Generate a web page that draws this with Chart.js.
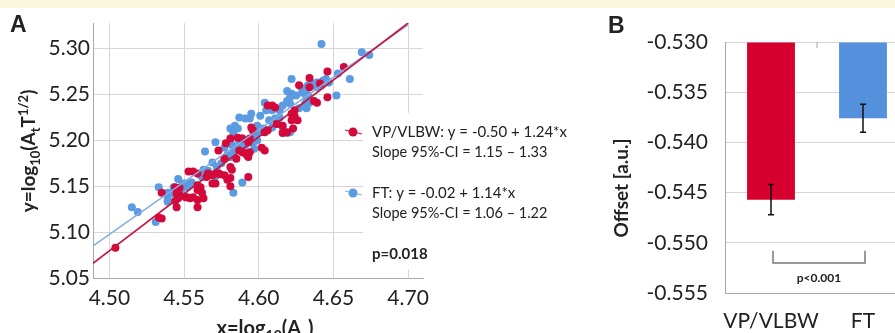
<!DOCTYPE html>
<html>
<head>
<meta charset="utf-8">
<script src="https://cdn.jsdelivr.net/npm/chart.js@4.4.1/dist/chart.umd.min.js"></script>
<style>
    html, body { margin: 0; padding: 0; width: 895px; height: 333px; overflow: hidden; background: #fff; }
    #band { position: absolute; left: 0; top: 0; width: 895px; height: 8px; background: #fdf6de; z-index: 2; }
    #chartA { position: absolute; left: 0; top: 0; }
    #chartB { position: absolute; left: 590px; top: 0; }
</style>
</head>
<body>
<div id="band"></div>
<canvas id="chartA" width="590" height="333"></canvas>
<canvas id="chartB" width="330" height="333"></canvas>
<script>
"use strict";

// Panel A - VP/VLBW scatter (x = log10(Ac), y = log10(At T^1/2))
const vpX = [4.504, 4.533, 4.535, 4.535, 4.544, 4.545, 4.544, 4.547, 4.545, 4.551, 4.554, 4.556, 4.553, 4.556,
    4.559, 4.561, 4.562, 4.559, 4.563, 4.565, 4.566, 4.569, 4.571, 4.573, 4.569, 4.571, 4.574, 4.577, 4.579,
    4.581, 4.582, 4.581, 4.593, 4.559, 4.552, 4.573, 4.581, 4.586, 4.589, 4.592, 4.585, 4.577, 4.578, 4.587,
    4.591, 4.594, 4.593, 4.589, 4.594, 4.593, 4.602, 4.604, 4.595, 4.596, 4.604, 4.606, 4.609, 4.611, 4.606,
    4.616, 4.622, 4.623, 4.619, 4.616, 4.612, 4.624, 4.624, 4.622, 4.626, 4.627, 4.634, 4.641, 4.634, 4.637,
    4.639, 4.646, 4.646, 4.657, 4.581, 4.547, 4.559, 4.559, 4.546];
const vpY = [5.083, 5.116, 5.115, 5.143, 5.149, 5.142, 5.134, 5.140, 5.127, 5.138, 5.137, 5.138, 5.166, 5.166,
    5.127, 5.149, 5.143, 5.164, 5.137, 5.160, 5.164, 5.162, 5.164, 5.164, 5.153, 5.153, 5.163, 5.162, 5.157,
    5.150, 5.168, 5.159, 5.160, 5.146, 5.138, 5.189, 5.202, 5.203, 5.187, 5.184, 5.180, 5.180, 5.197, 5.189,
    5.186, 5.187, 5.182, 5.202, 5.202, 5.198, 5.192, 5.189, 5.214, 5.211, 5.209, 5.211, 5.238, 5.236, 5.238,
    5.216, 5.222, 5.213, 5.209, 5.208, 5.218, 5.233, 5.227, 5.229, 5.222, 5.260, 5.268, 5.262, 5.258, 5.243,
    5.241, 5.247, 5.275, 5.280, 5.171, 5.148, 5.151, 5.135, 5.137];

// Panel A - FT scatter
const ftX = [4.515, 4.519, 4.531, 4.533, 4.539, 4.539, 4.543, 4.546, 4.548, 4.554, 4.552, 4.561, 4.563, 4.571,
    4.572, 4.583, 4.589, 4.549, 4.551, 4.555, 4.539, 4.542, 4.539, 4.563, 4.566, 4.562, 4.569, 4.572, 4.575,
    4.564, 4.571, 4.577, 4.581, 4.579, 4.583, 4.585, 4.587, 4.589, 4.591, 4.581, 4.587, 4.591, 4.595, 4.594,
    4.584, 4.586, 4.581, 4.599, 4.603, 4.602, 4.599, 4.597, 4.599, 4.596, 4.582, 4.586, 4.597, 4.583, 4.604,
    4.605, 4.609, 4.614, 4.611, 4.613, 4.609, 4.616, 4.621, 4.619, 4.607, 4.601, 4.619, 4.622, 4.625, 4.629,
    4.632, 4.619, 4.616, 4.614, 4.621, 4.631, 4.632, 4.627, 4.622, 4.621, 4.629, 4.633, 4.632, 4.634, 4.639,
    4.643, 4.645, 4.633, 4.636, 4.639, 4.642, 4.652, 4.653, 4.661, 4.642, 4.669, 4.674, 4.647];
const ftY = [5.127, 5.122, 5.111, 5.149, 5.140, 5.135, 5.149, 5.158, 5.143, 5.151, 5.149, 5.162, 5.168, 5.161,
    5.165, 5.143, 5.154, 5.153, 5.153, 5.154, 5.143, 5.142, 5.133, 5.165, 5.167, 5.160, 5.176, 5.171, 5.175,
    5.188, 5.198, 5.192, 5.197, 5.184, 5.187, 5.191, 5.198, 5.202, 5.195, 5.182, 5.225, 5.224, 5.229, 5.224,
    5.216, 5.213, 5.213, 5.216, 5.213, 5.209, 5.209, 5.205, 5.200, 5.197, 5.195, 5.192, 5.191, 5.208, 5.241,
    5.233, 5.233, 5.225, 5.224, 5.218, 5.214, 5.214, 5.209, 5.208, 5.222, 5.227, 5.254, 5.251, 5.249, 5.257,
    5.251, 5.243, 5.238, 5.233, 5.240, 5.240, 5.235, 5.235, 5.267, 5.247, 5.252, 5.249, 5.246, 5.241, 5.263,
    5.265, 5.267, 5.260, 5.262, 5.258, 5.260, 5.249, 5.273, 5.267, 5.305, 5.296, 5.293, 5.263];

// Regression line end points
const vpFitX = [4.489, 4.700];
const vpFitY = [5.066, 5.328];
const ftFitX = [4.489, 4.700];
const ftFitY = [5.085, 5.326];

// Legend lines
const vpLegend = ['VP/VLBW: y = -0.50 + 1.24*x', 'Slope 95%-CI = 1.15 \u2013 1.33'];
const ftLegend = ['FT: y = -0.02 + 1.14*x', 'Slope 95%-CI = 1.06 \u2013 1.22'];
const pSlope = 'p=0.018';

// Panel B - offset bars
const groups = ['VP/VLBW', 'FT'];
const offsets = [-0.5457, -0.5376];
const offsetErr = [0.0015, 0.0014];
const barTop = -0.530;
const bracketY = [-0.5508, -0.5520];
const pOffset = 'p<0.001';

var red = '#d4083a';
var blue = '#5b9be2';
var redLine = '#c8143f';
var blueLine = '#86acdf';
var gridColor = '#d6d6d6';
var axisColor = '#a8a8a8';
var textColor = '#222';

Chart.defaults.font.family = 'Lato';
Chart.defaults.color = textColor;

function pts(xs, ys) {
    return xs.map(function (x, i) { return { x: x, y: ys[i] }; });
}

// draws text runs like ['log', 'n'], ['10', 'sub'] centred on cx, baseline cy
function drawRich(ctx, runs, cx, cy, size) {
    var total = 0;
    runs.forEach(function (r) {
        ctx.font = 'bold ' + (r[1] === 'n' ? size : Math.round(size * 0.68)) + 'px Lato';
        total += ctx.measureText(r[0]).width;
    });
    var x = cx - total / 2;
    ctx.textAlign = 'left';
    ctx.textBaseline = 'alphabetic';
    runs.forEach(function (r) {
        ctx.font = 'bold ' + (r[1] === 'n' ? size : Math.round(size * 0.68)) + 'px Lato';
        var dy = r[1] === 'sub' ? size * 0.25 : (r[1] === 'sup' ? -size * 0.38 : 0);
        ctx.fillText(r[0], x, cy + dy);
        x += ctx.measureText(r[0]).width;
    });
}

var panelA = {
    id: 'panelA',
    afterDraw: function (chart) {
        var ctx = chart.ctx;
        ctx.save();

        // legend box hides the grid behind it
        ctx.fillStyle = '#fff';
        ctx.fillRect(363, 113, 227, 157);

        var items = [[vpLegend, red, redLine, 132], [ftLegend, blue, blueLine, 193]];
        items.forEach(function (it) {
            var y = it[3];
            ctx.strokeStyle = it[2];
            ctx.lineWidth = 1.2;
            ctx.beginPath();
            ctx.moveTo(345, y - 2);
            ctx.lineTo(362, y + 2);
            ctx.stroke();
            ctx.fillStyle = it[1];
            ctx.beginPath();
            ctx.arc(353, y, 4.5, 0, Math.PI * 2);
            ctx.fill();

            ctx.fillStyle = textColor;
            ctx.textAlign = 'left';
            ctx.textBaseline = 'middle';
            ctx.font = '15px Lato';
            ctx.fillText(it[0][0], 372, y);
            ctx.font = '14.5px Lato';
            ctx.fillText(it[0][1], 372, y + 20);
        });
        ctx.font = 'bold 15px Lato';
        ctx.fillText(pSlope, 372, 254);

        // axis titles
        ctx.fillStyle = textColor;
        drawRich(ctx, [['x=log', 'n'], ['10', 'sub'], ['(A', 'n'], ['c', 'sub'], [')', 'n']], 265, 335, 20);
        ctx.translate(35, 151);
        ctx.rotate(-Math.PI / 2);
        drawRich(ctx, [['y=log', 'n'], ['10', 'sub'], ['(A', 'n'], ['t', 'sub'], ['T', 'n'], ['1/2', 'sup'], [')', 'n']], 0, 0, 19);
        ctx.setTransform(1, 0, 0, 1, 0, 0);

        ctx.font = 'bold 23px "Liberation Sans"';
        ctx.textAlign = 'left';
        ctx.textBaseline = 'alphabetic';
        ctx.fillText('A', 10, 32);
        ctx.restore();
    }
};

var panelB = {
    id: 'panelB',
    afterDatasetsDraw: function (chart) {
        var ctx = chart.ctx;
        var yS = chart.scales.y;
        var bars = chart.getDatasetMeta(0).data;
        ctx.save();

        // error bars
        ctx.strokeStyle = '#111';
        ctx.lineWidth = 1.5;
        bars.forEach(function (bar, i) {
            var y1 = yS.getPixelForValue(offsets[i] + offsetErr[i]);
            var y2 = yS.getPixelForValue(offsets[i] - offsetErr[i]);
            ctx.beginPath();
            ctx.moveTo(bar.x, y1); ctx.lineTo(bar.x, y2);
            ctx.moveTo(bar.x - 3, y1); ctx.lineTo(bar.x + 3, y1);
            ctx.moveTo(bar.x - 3, y2); ctx.lineTo(bar.x + 3, y2);
            ctx.stroke();
        });

        // significance bracket
        var b1 = yS.getPixelForValue(bracketY[0]);
        var b2 = yS.getPixelForValue(bracketY[1]);
        ctx.strokeStyle = '#7a7a7a';
        ctx.lineWidth = 1.5;
        ctx.beginPath();
        ctx.moveTo(bars[0].x + 2, b1);
        ctx.lineTo(bars[0].x + 2, b2);
        ctx.lineTo(bars[1].x + 2, b2);
        ctx.lineTo(bars[1].x + 2, b1);
        ctx.stroke();
        ctx.fillStyle = textColor;
        ctx.font = 'bold 12px Lato';
        ctx.textAlign = 'center';
        ctx.textBaseline = 'middle';
        ctx.fillText(pOffset, (bars[0].x + bars[1].x) / 2 + 2, b2 + 15);

        // category separator tick on the top axis
        var mid = (bars[0].x + bars[1].x) / 2;
        ctx.strokeStyle = axisColor;
        ctx.lineWidth = 1;
        ctx.beginPath();
        ctx.moveTo(mid, chart.chartArea.top);
        ctx.lineTo(mid, chart.chartArea.top + 6);
        ctx.stroke();
        ctx.restore();
    },
    afterDraw: function (chart) {
        var ctx = chart.ctx;
        ctx.save();
        ctx.fillStyle = textColor;
        ctx.translate(38, 188);
        ctx.rotate(-Math.PI / 2);
        ctx.font = 'bold 19px Lato';
        ctx.textAlign = 'center';
        ctx.textBaseline = 'alphabetic';
        ctx.fillText('Offset [a.u.]', 0, 0);
        ctx.setTransform(1, 0, 0, 1, 0, 0);
        ctx.font = 'bold 23px "Liberation Sans"';
        ctx.textAlign = 'left';
        ctx.fillText('B', 18, 33);
        ctx.restore();
    }
};

var scatterChart = new Chart(document.getElementById('chartA'), {
    type: 'scatter',
    data: {
        datasets: [
            { type: 'line', data: pts(vpFitX, vpFitY), borderColor: redLine, borderWidth: 1.6, pointRadius: 0, fill: false },
            { type: 'line', data: pts(ftFitX, ftFitY), borderColor: blueLine, borderWidth: 1.6, pointRadius: 0, fill: false },
            { data: pts(vpX, vpY), backgroundColor: red, borderWidth: 0, pointRadius: 4 },
            { data: pts(ftX, ftY), backgroundColor: blue, borderWidth: 0, pointRadius: 4 }
        ]
    },
    options: {
        responsive: false,
        animation: false,
        layout: { padding: { top: 23, right: 167, left: 0, bottom: 0 } },
        plugins: { legend: { display: false }, tooltip: { enabled: false } },
        scales: {
            x: {
                type: 'linear',
                min: 4.489,
                max: 4.71,
                afterFit: function (s) { s.height = 55; },
                grid: { color: gridColor, drawTicks: false },
                border: { color: axisColor },
                ticks: {
                    stepSize: 0.05,
                    includeBounds: false,
                    maxRotation: 0,
                    padding: 8,
                    font: { size: 21 },
                    callback: function (v) { return v.toFixed(2); }
                }
            },
            y: {
                min: 5.05,
                max: 5.328,
                afterFit: function (s) { s.width = 93; },
                grid: { color: gridColor, drawTicks: false },
                border: { color: axisColor },
                ticks: {
                    stepSize: 0.05,
                    includeBounds: false,
                    padding: 3,
                    font: { size: 21 },
                    callback: function (v) { return v.toFixed(2); }
                }
            }
        }
    },
    plugins: [panelA]
});

var barChart = new Chart(document.getElementById('chartB'), {
    type: 'bar',
    data: {
        labels: groups,
        datasets: [{
            data: offsets,
            base: barTop,
            backgroundColor: ['#d6002f', '#5590dd'],
            barPercentage: 0.52,
            categoryPercentage: 1
        }]
    },
    options: {
        responsive: false,
        animation: false,
        layout: { padding: { top: 42, right: 11, left: 0, bottom: 0 } },
        plugins: { legend: { display: false }, tooltip: { enabled: false } },
        scales: {
            x: {
                afterFit: function (s) { s.height = 40; },
                grid: { display: false },
                border: { color: axisColor },
                ticks: { padding: 8, maxRotation: 0, minRotation: 0, autoSkip: false, font: { size: 21 } }
            },
            y: {
                min: -0.555,
                max: -0.530,
                afterFit: function (s) { s.width = 135; },
                grid: { color: gridColor, drawTicks: false },
                border: { color: axisColor },
                ticks: {
                    stepSize: 0.005,
                    padding: 17,
                    font: { size: 21 },
                    callback: function (v) { return v.toFixed(3); }
                }
            }
        }
    },
    plugins: [panelB]
});
</script>
</body>
</html>
